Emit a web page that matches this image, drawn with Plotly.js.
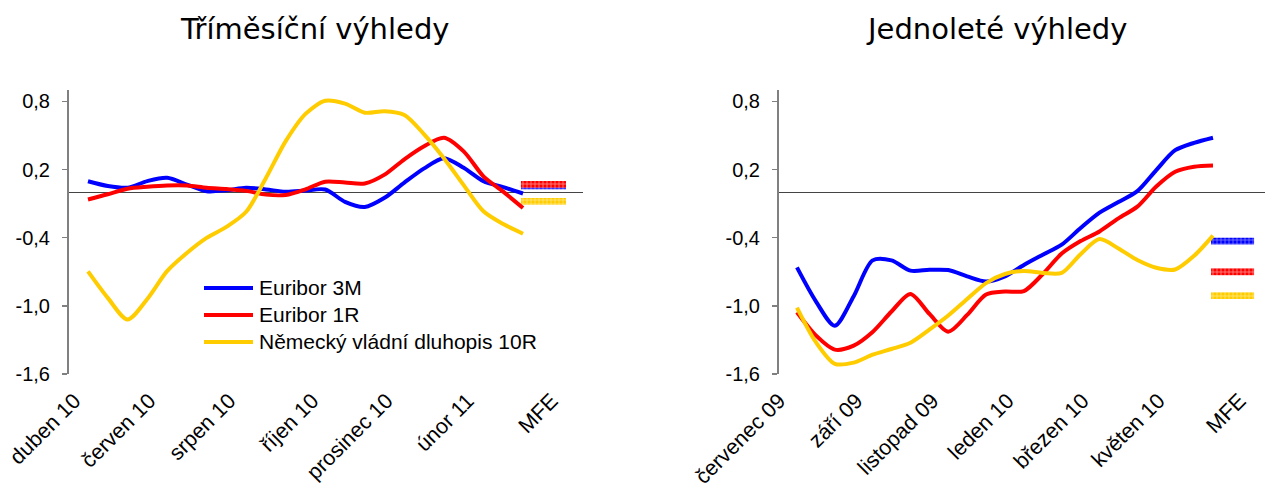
<!DOCTYPE html>
<html>
<head>
<meta charset="utf-8">
<script src="https://cdn.plot.ly/plotly-3.0.1.min.js"></script>
<style>
  html, body { margin: 0; padding: 0; background: #fff; }
  #chart { width: 1265px; height: 493px; }
</style>
</head>
<body>
<div id="chart"></div>
<script>
// ---- Data ----
const seriesNames = ["Euribor 3M", "Euribor 1R", "Německý vládní dluhopis 10R"];
const seriesColors = ["#0000FF", "#FF0000", "#FFCC00"];
const patternColors = ["#8080FF", "#FF9090", "#FFE680"];

// position index of each observation (weekly steps)
const obsIndex = [0, 2, 4, 6, 8, 10, 12, 14, 16, 18, 20, 22, 24, 26, 28, 30, 32, 34, 36, 38, 40, 42, 44];

// Tříměsíční výhledy
const leftTickLabels = ["duben 10", "červen 10", "srpen 10", "říjen 10", "prosinec 10", "únor 11", "MFE"];
const leftEuribor3M = [0.097, 0.055, 0.040, 0.098, 0.127, 0.068, 0.009, 0.017, 0.039, 0.025, 0.004, 0.015, 0.024, -0.085, -0.130, -0.049, 0.085, 0.210, 0.300, 0.215, 0.097, 0.045, -0.011];
const leftEuribor1R = [-0.064, -0.018, 0.031, 0.048, 0.059, 0.059, 0.039, 0.028, 0.012, -0.021, -0.024, 0.026, 0.093, 0.085, 0.077, 0.155, 0.290, 0.405, 0.480, 0.360, 0.140, 0.005, -0.138];
const leftBund10R = [-0.697, -0.930, -1.120, -0.940, -0.695, -0.535, -0.402, -0.305, -0.172, 0.125, 0.450, 0.690, 0.805, 0.780, 0.700, 0.713, 0.680, 0.510, 0.300, 0.063, -0.168, -0.280, -0.365];
const leftMFE = [0.057, 0.070, -0.080];

// Jednoleté výhledy
const rightTickLabels = ["červenec 09", "září 09", "listopad 09", "leden 10", "březen 10", "květen 10", "MFE"];
const rightEuribor3M = [-0.662, -0.960, -1.175, -0.915, -0.600, -0.600, -0.690, -0.683, -0.685, -0.740, -0.785, -0.740, -0.640, -0.550, -0.462, -0.315, -0.180, -0.086, 0.010, 0.195, 0.370, 0.435, 0.480];
const rightEuribor1R = [-1.056, -1.260, -1.385, -1.350, -1.230, -1.050, -0.895, -1.070, -1.227, -1.080, -0.900, -0.874, -0.870, -0.720, -0.540, -0.430, -0.345, -0.230, -0.127, 0.050, 0.180, 0.225, 0.236];
const rightBund10R = [-1.015, -1.320, -1.510, -1.500, -1.430, -1.380, -1.325, -1.210, -1.085, -0.940, -0.800, -0.720, -0.693, -0.710, -0.710, -0.545, -0.412, -0.495, -0.597, -0.665, -0.680, -0.560, -0.382];
const rightMFE = [-0.430, -0.700, -0.910];

const yTickValues = [-1.6, -1.0, -0.4, 0.2, 0.8];
const yTickLabels = ["-1,6", "-1,0", "-0,4", "0,2", "0,8"];

// ---- Layout helpers ----
const W = 1265, H = 493;
const plotTop = 90, plotBottom = 374;
const py = (pix) => (plotBottom - pix) / (plotBottom - plotTop); // pixel row -> paper y
const mfeX = 46.07, mfeWidth = 4.55, mfeHalfH = 0.03;
const leftTickPos = [-1.37, 6.2, 14.3, 22.7, 30.2, 38.4, 46.9];
const rightTickPos = [-1.88, 6.29, 14.33, 22.27, 30.2, 38.24, 46.8];

const traces = [];
function addLines(vals, xa, ya) {
  vals.forEach((v, i) => {
    traces.push({
      type: "scatter", mode: "lines", x: obsIndex, y: v,
      xaxis: xa, yaxis: ya, name: seriesNames[i], showlegend: false,
      line: { color: seriesColors[i], width: 4, shape: "spline", smoothing: 0.8 },
      hoverinfo: "skip"
    });
  });
}
function addMFE(vals, xa, ya) {
  vals.forEach((v, i) => {
    traces.push({
      type: "bar", x: [mfeX], y: [2 * mfeHalfH], base: [v - mfeHalfH], width: [mfeWidth],
      xaxis: xa, yaxis: ya, name: seriesNames[i] + " (MFE)", showlegend: false, hoverinfo: "skip",
      marker: {
        color: seriesColors[i], line: { width: 0 },
        pattern: { shape: "+", fillmode: "replace", bgcolor: seriesColors[i], fgcolor: patternColors[i], size: 4, solidity: 0.35 }
      }
    });
  });
}
addMFE(leftMFE, "x", "y");
addMFE(rightMFE, "x2", "y2");
addLines([leftEuribor3M, leftEuribor1R, leftBund10R], "x", "y");
addLines([rightEuribor3M, rightEuribor1R, rightBund10R], "x2", "y2");

const textFont = "Liberation Sans, Arial, sans-serif";
const xBase = {
  type: "linear", showgrid: false, zeroline: false, showline: false,
  ticks: "", tickangle: -45, tickfont: { family: textFont, size: 21.5, color: "#000" },
  ticklabelstandoff: 9, fixedrange: true
};
const yBase = {
  type: "linear", range: [-1.6, 0.9], showgrid: false,
  zeroline: true, zerolinecolor: "#444", zerolinewidth: 1,
  showline: true, linecolor: "#808080", linewidth: 2,
  ticks: "outside", ticklen: 5, tickcolor: "#808080", tickwidth: 1.5,
  tickvals: yTickValues, ticktext: yTickLabels,
  tickfont: { family: textFont, size: 20, color: "#000" }, ticklabelstandoff: 8,
  fixedrange: true
};

// legend drawn as line samples + text
const legendRows = [288, 315, 342];
const shapes = [];
const annotations = [];
seriesNames.forEach((name, i) => {
  shapes.push({ type: "line", xref: "paper", yref: "paper", x0: 204 / W, x1: 253 / W, y0: py(legendRows[i]), y1: py(legendRows[i]),
    line: { color: seriesColors[i], width: 4 } });
  annotations.push({ text: name, xref: "paper", yref: "paper", x: 257 / W, y: py(legendRows[i] - 1), xanchor: "left", yanchor: "middle",
    showarrow: false, font: { family: textFont, size: 21, color: "#000" } });
});
const titleFont = { family: "DejaVu Sans, Verdana, sans-serif", size: 29, color: "#000" };
annotations.push({ text: "Tříměsíční výhledy", xref: "paper", yref: "paper", x: 314 / W, y: py(29), xanchor: "center", yanchor: "middle", showarrow: false, font: titleFont });
annotations.push({ text: "Jednoleté výhledy", xref: "paper", yref: "paper", x: 996 / W, y: py(29), xanchor: "center", yanchor: "middle", showarrow: false, font: titleFont });

const layout = {
  width: W, height: H,
  margin: { l: 0, r: 0, t: plotTop, b: H - plotBottom },
  paper_bgcolor: "#fff", plot_bgcolor: "rgba(0,0,0,0)",
  barmode: "overlay",
  showlegend: false,
  xaxis: Object.assign({}, xBase, { domain: [69 / W, 583 / W], range: [-1.92, 50.07], anchor: "y", tickvals: leftTickPos, ticktext: leftTickLabels }),
  yaxis: Object.assign({}, yBase, { anchor: "x" }),
  xaxis2: Object.assign({}, xBase, { domain: [779 / W, 1], range: [-1.90, 49.5], anchor: "y2", tickvals: rightTickPos, ticktext: rightTickLabels }),
  yaxis2: Object.assign({}, yBase, { anchor: "x2" }),
  shapes: shapes,
  annotations: annotations
};

Plotly.newPlot("chart", traces, layout, { displayModeBar: false, staticPlot: true });
</script>
</body>
</html>
